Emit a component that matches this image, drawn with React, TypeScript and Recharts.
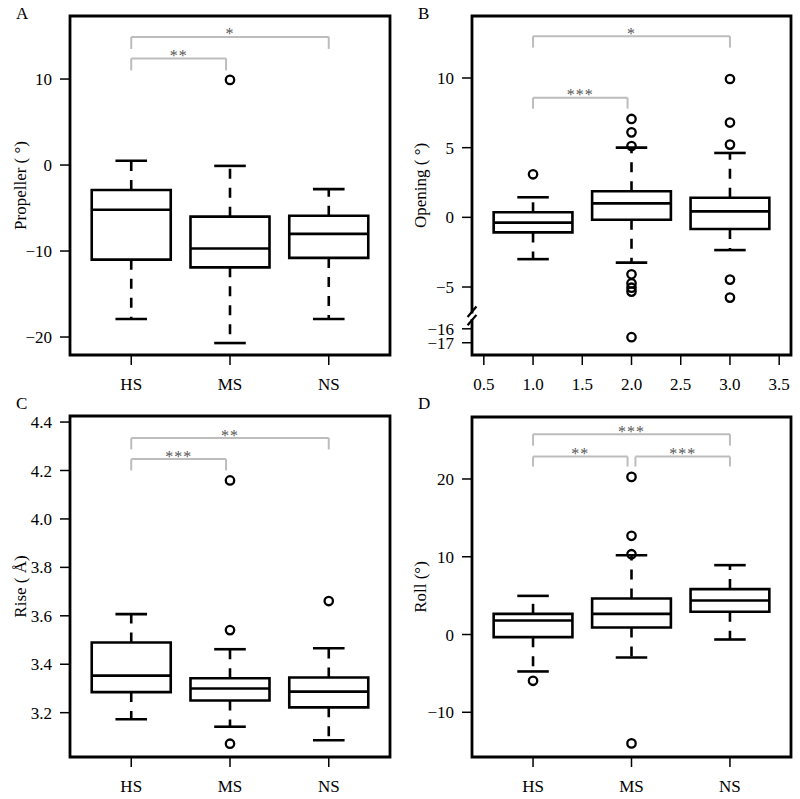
import React from 'react';
import { ComposedChart, XAxis, YAxis, ReferenceArea, ReferenceLine, Scatter } from 'recharts';

// ---------- shared ----------
const groups = [1, 2, 3];
const groupLabels = ['HS', 'MS', 'NS'];
const numericXTicks = [0.5, 1, 1.5, 2, 2.5, 3, 3.5];

// ---------- A: Propeller ----------
const propLower = [-17.9, -20.7, -17.9];
const propQ1 = [-11.0, -11.9, -10.8];
const propMedian = [-5.2, -9.7, -8.0];
const propQ3 = [-2.9, -6.0, -5.9];
const propUpper = [0.5, -0.1, -2.8];
const propOutliers = [[], [9.9], []];
const propTicks = [-20, -10, 0, 10];
const propBracketFrom = [1, 1];
const propBracketTo = [3, 1.96];
const propBracketTop = [14.9, 12.4];
const propBracketFoot = [13.5, 11.0];
const propStars = ['*', '**'];

// ---------- B: Opening (axis broken between -7 and -15) ----------
const openLower = [-3.0, -3.25, -2.35];
const openQ1 = [-1.08, -0.17, -0.84];
const openMedian = [-0.38, 1.0, 0.43];
const openQ3 = [0.36, 1.87, 1.41];
const openUpper = [1.44, 5.0, 4.62];
const openOutliers = [[3.09], [7.06, 6.1, 5.12, -4.09, -4.74, -5.05, -5.33, -16.6], [9.93, 6.8, 5.22, -4.47, -5.76]];
const openTickLabels = [-17, -16, -5, 0, 5, 10];
const openBreakGap = 8; // values below -7 are shifted up by this gap
const openBracketFrom = [1, 1];
const openBracketTo = [3, 1.96];
const openBracketTop = [13.0, 8.59];
const openBracketFoot = [12.18, 7.8];
const openStars = ['*', '***'];

// ---------- C: Rise ----------
const riseLower = [3.173, 3.142, 3.086];
const riseQ1 = [3.285, 3.25, 3.222];
const riseMedian = [3.353, 3.3, 3.287];
const riseQ3 = [3.49, 3.342, 3.345];
const riseUpper = [3.607, 3.462, 3.466];
const riseOutliers = [[], [4.159, 3.541, 3.072], [3.661]];
const riseTicks = [3.2, 3.4, 3.6, 3.8, 4.0, 4.2, 4.4];
const riseBracketFrom = [1, 1];
const riseBracketTo = [3, 1.96];
const riseBracketTop = [4.334, 4.247];
const riseBracketFoot = [4.287, 4.2];
const riseStars = ['**', '***'];

// ---------- D: Roll ----------
const rollLower = [-4.75, -2.96, -0.64];
const rollQ1 = [-0.34, 0.9, 2.92];
const rollMedian = [1.8, 2.66, 4.37];
const rollQ3 = [2.66, 4.63, 5.84];
const rollUpper = [4.97, 10.2, 8.92];
const rollOutliers = [[-5.95], [20.27, 12.69, 10.33, -14.0], []];
const rollTicks = [-10, 0, 10, 20];
const rollBracketFrom = [1, 1, 2.04];
const rollBracketTo = [3, 1.96, 3];
const rollBracketTop = [25.76, 22.88, 22.88];
const rollBracketFoot = [24.29, 21.6, 21.6];
const rollStars = ['***', '**', '***'];

// ---------- styling ----------
const SERIF = '"Liberation Serif", "Times New Roman", "DejaVu Serif", serif';
const X_DOMAIN: [number, number] = [0.38, 3.62];
const BOX_HALF = 0.4;
const CAP_HALF = 0.16;
const LW = 2.6;
const BRACKET_COLOR = '#bdbdbd';
const STAR_COLOR = '#555555';
const TICK_FONT = 17;

const minus = (s: string) => s.replace('-', '\u2212');
const identity = (v: number) => v;
const brk = (v: number) => (v < -7 ? v + openBreakGap : v);

const OutlierShape = (p: any) => (
  <circle cx={p.cx} cy={p.cy} r={4.2} fill="none" stroke="#000" strokeWidth={2.3} />
);
const StarShape = (p: any) => (
  <text x={p.cx} y={p.cy + 2.5} textAnchor="middle" fontFamily={SERIF} fontSize={16} letterSpacing={1} fill={STAR_COLOR}>
    {p.payload.label}
  </text>
);

type PanelProps = {
  left: number; top: number; width: number; height: number;
  margin: { top: number; right: number; bottom: number; left: number };
  yAxisWidth: number; xAxisHeight: number;
  yDomain: [number, number]; yTicks: number[]; yFmt: (v: number) => string;
  xTicks: number[]; xFmt: (v: number) => string;
  lower: number[]; q1: number[]; median: number[]; q3: number[]; upper: number[];
  outliers: number[][];
  bFrom: number[]; bTo: number[]; bTop: number[]; bFoot: number[]; stars: string[];
  yLabel: string; map?: (v: number) => number; breakMark?: boolean;
};

function Panel(props: PanelProps) {
  const {
    left, top, width, height, margin, yAxisWidth, xAxisHeight, yDomain, yTicks, yFmt, xTicks, xFmt,
    lower, q1, median, q3, upper, outliers, bFrom, bTo, bTop, bFoot, stars, yLabel, breakMark,
  } = props;
  const map = props.map || identity;
  const els: React.ReactNode[] = [];
  groups.forEach((g, i) => {
    els.push(
      <ReferenceLine key={'wu' + i} segment={[{ x: g, y: map(q3[i]) }, { x: g, y: map(upper[i]) }]} stroke="#000" strokeWidth={LW} strokeDasharray="10 9" />,
      <ReferenceLine key={'wl' + i} segment={[{ x: g, y: map(q1[i]) }, { x: g, y: map(lower[i]) }]} stroke="#000" strokeWidth={LW} strokeDasharray="10 9" />,
      <ReferenceLine key={'cu' + i} segment={[{ x: g - CAP_HALF, y: map(upper[i]) }, { x: g + CAP_HALF, y: map(upper[i]) }]} stroke="#000" strokeWidth={LW} />,
      <ReferenceLine key={'cl' + i} segment={[{ x: g - CAP_HALF, y: map(lower[i]) }, { x: g + CAP_HALF, y: map(lower[i]) }]} stroke="#000" strokeWidth={LW} />,
    );
  });
  groups.forEach((g, i) => {
    els.push(
      <ReferenceArea key={'bx' + i} x1={g - BOX_HALF} x2={g + BOX_HALF} y1={map(q1[i])} y2={map(q3[i])} fill="#ffffff" fillOpacity={1} stroke="#000" strokeWidth={LW} />,
    );
  });
  groups.forEach((g, i) => {
    els.push(
      <ReferenceLine key={'md' + i} segment={[{ x: g - BOX_HALF, y: map(median[i]) }, { x: g + BOX_HALF, y: map(median[i]) }]} stroke="#000" strokeWidth={LW} />,
    );
  });
  bFrom.forEach((f, i) => {
    const t = bTo[i];
    els.push(
      <ReferenceLine key={'bh' + i} segment={[{ x: f, y: bTop[i] }, { x: t, y: bTop[i] }]} stroke={BRACKET_COLOR} strokeWidth={2} />,
      <ReferenceLine key={'bl' + i} segment={[{ x: f, y: bTop[i] }, { x: f, y: bFoot[i] }]} stroke={BRACKET_COLOR} strokeWidth={2} />,
      <ReferenceLine key={'br' + i} segment={[{ x: t, y: bTop[i] }, { x: t, y: bFoot[i] }]} stroke={BRACKET_COLOR} strokeWidth={2} />,
    );
  });
  const outlierPts: { x: number; y: number }[] = [];
  outliers.forEach((arr, i) => arr.forEach((v) => outlierPts.push({ x: groups[i], y: map(v) })));
  const starPts = stars.map((s, i) => ({ x: (bFrom[i] + bTo[i]) / 2, y: bTop[i], label: s }));

  const tickStyle = { fill: '#000', fontSize: TICK_FONT, fontFamily: SERIF };
  return (
    <div style={{ position: 'absolute', left, top, width, height }}>
      <ComposedChart width={width} height={height} margin={margin}>
        <XAxis
          type="number" dataKey="x" domain={X_DOMAIN} allowDataOverflow ticks={xTicks} interval={0}
          tickFormatter={xFmt} axisLine={false} tickLine={{ stroke: '#000', strokeWidth: 1.5 }}
          tickSize={10} tickMargin={13} height={xAxisHeight} tick={tickStyle}
        />
        <YAxis
          type="number" dataKey="y" domain={yDomain} allowDataOverflow ticks={yTicks} interval={0}
          tickFormatter={yFmt} axisLine={false} tickLine={{ stroke: '#000', strokeWidth: 1.5 }}
          tickSize={10} tickMargin={8} width={yAxisWidth} tick={tickStyle}
          label={{
            value: yLabel, angle: -90, position: 'insideLeft', offset: 20,
            style: { textAnchor: 'middle', fontFamily: SERIF, fontSize: 17, fill: '#000' },
          }}
        />
        {els}
        <Scatter data={outlierPts} shape={OutlierShape} isAnimationActive={false} />
        <Scatter data={starPts} shape={StarShape} isAnimationActive={false} />
        <ReferenceArea x1={X_DOMAIN[0]} x2={X_DOMAIN[1]} y1={yDomain[0]} y2={yDomain[1]} fill="none" stroke="#000" strokeWidth={2.8} ifOverflow="visible" />
        {breakMark && [
          <ReferenceLine key="gap" segment={[{ x: X_DOMAIN[0], y: -6.9 }, { x: X_DOMAIN[0], y: -7.3 }]} stroke="#fff" strokeWidth={6} ifOverflow="visible" />,
          <ReferenceLine key="s1" segment={[{ x: 0.335, y: -7.15 }, { x: 0.425, y: -6.4 }]} stroke="#000" strokeWidth={2.2} ifOverflow="visible" />,
          <ReferenceLine key="s2" segment={[{ x: 0.335, y: -7.75 }, { x: 0.425, y: -7.0 }]} stroke="#000" strokeWidth={2.2} ifOverflow="visible" />,
        ]}
      </ComposedChart>
    </div>
  );
}

const letterStyle = (left: number, top: number): React.CSSProperties => ({
  position: 'absolute', left, top, fontFamily: SERIF, fontSize: 17, lineHeight: '17px', color: '#000',
});

export default function App() {
  const catFmt = (v: number) => groupLabels[groups.indexOf(v)] ?? '';
  const intFmt = (v: number) => minus(String(v));
  const openTicks = openTickLabels.map(brk);
  const openFmt = (v: number) => minus(String(openTickLabels[openTicks.indexOf(v)]));
  return (
    <div style={{ position: 'absolute', left: 0, top: 0, width: 800, height: 799, overflow: 'hidden', background: '#fff' }}>
      <Panel
        left={0} top={0} width={400} height={400}
        margin={{ top: 16, right: 10, bottom: 0, left: 0 }} yAxisWidth={70} xAxisHeight={45}
        yDomain={[-22.09, 17.33]} yTicks={propTicks} yFmt={intFmt}
        xTicks={groups} xFmt={catFmt}
        lower={propLower} q1={propQ1} median={propMedian} q3={propQ3} upper={propUpper} outliers={propOutliers}
        bFrom={propBracketFrom} bTo={propBracketTo} bTop={propBracketTop} bFoot={propBracketFoot} stars={propStars}
        yLabel={'Propeller (  \u00b0)'}
      />
      <Panel
        left={400} top={0} width={400} height={400}
        margin={{ top: 16, right: 9, bottom: 0, left: 0 }} yAxisWidth={72} xAxisHeight={45}
        yDomain={[-9.88, 14.45]} yTicks={openTicks} yFmt={openFmt}
        xTicks={numericXTicks} xFmt={(v: number) => v.toFixed(1)}
        lower={openLower} q1={openQ1} median={openMedian} q3={openQ3} upper={openUpper} outliers={openOutliers}
        bFrom={openBracketFrom} bTo={openBracketTo} bTop={openBracketTop} bFoot={openBracketFoot} stars={openStars}
        yLabel={'Opening (  \u00b0)'} map={brk} breakMark
      />
      <Panel
        left={0} top={400} width={400} height={399}
        margin={{ top: 16, right: 10, bottom: 0, left: 0 }} yAxisWidth={70} xAxisHeight={42}
        yDomain={[3.017, 4.425]} yTicks={riseTicks} yFmt={(v: number) => v.toFixed(1)}
        xTicks={groups} xFmt={catFmt}
        lower={riseLower} q1={riseQ1} median={riseMedian} q3={riseQ3} upper={riseUpper} outliers={riseOutliers}
        bFrom={riseBracketFrom} bTo={riseBracketTo} bTop={riseBracketTop} bFoot={riseBracketFoot} stars={riseStars}
        yLabel={'Rise ( \u00c5)'}
      />
      <Panel
        left={400} top={400} width={400} height={399}
        margin={{ top: 17, right: 9, bottom: 0, left: 0 }} yAxisWidth={72} xAxisHeight={42}
        yDomain={[-15.75, 27.97]} yTicks={rollTicks} yFmt={intFmt}
        xTicks={groups} xFmt={catFmt}
        lower={rollLower} q1={rollQ1} median={rollMedian} q3={rollQ3} upper={rollUpper} outliers={rollOutliers}
        bFrom={rollBracketFrom} bTo={rollBracketTo} bTop={rollBracketTop} bFoot={rollBracketFoot} stars={rollStars}
        yLabel={'Roll (\u00b0)'}
      />
      <div style={letterStyle(16, 5)}>A</div>
      <div style={letterStyle(418, 5)}>B</div>
      <div style={letterStyle(16, 395)}>C</div>
      <div style={letterStyle(418, 395)}>D</div>
    </div>
  );
}
